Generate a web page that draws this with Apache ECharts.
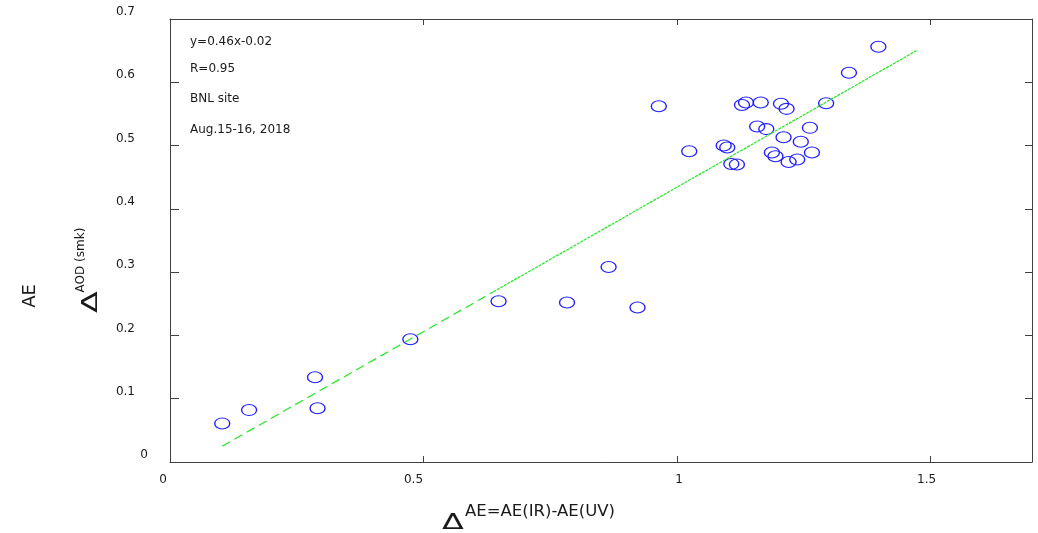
<!DOCTYPE html>
<html>
<head>
<meta charset="utf-8">
<script src="https://cdn.jsdelivr.net/npm/echarts@6/dist/echarts.min.js"></script>
<style>html,body{margin:0;padding:0;background:#fff;}#chart{width:1038px;height:533px;}</style>
</head>
<body>
<div id="chart"></div>
<script>
// ---- data ----
const pointsX = [0.103, 0.156, 0.286, 0.291, 0.474, 0.648, 0.783, 0.865, 0.922, 0.964, 1.024,
  1.092, 1.099, 1.107, 1.118, 1.128, 1.136, 1.165, 1.158, 1.176, 1.187, 1.194, 1.205, 1.216,
  1.210, 1.220, 1.237, 1.244, 1.262, 1.266, 1.294, 1.339, 1.397];
const pointsY = [0.061, 0.082, 0.134, 0.085, 0.194, 0.254, 0.252, 0.308, 0.244, 0.562, 0.491,
  0.500, 0.497, 0.471, 0.470, 0.564, 0.568, 0.568, 0.530, 0.526, 0.489, 0.483, 0.566, 0.558,
  0.513, 0.474, 0.478, 0.506, 0.528, 0.489, 0.567, 0.615, 0.656];
const fitDashX = [0.103, 0.638];
const fitDashY = [0.025, 0.269];
const fitDotX = [0.638, 1.472];
const fitDotY = [0.269, 0.650];
const xTickValues = [0, 0.5, 1, 1.5];
const xTickLabels = ['0', '0.5', '1', '1.5'];
const yTickValues = [0, 0.1, 0.2, 0.3, 0.4, 0.5, 0.6, 0.7];
const yTickLabels = ['0', '0.1', '0.2', '0.3', '0.4', '0.5', '0.6', '0.7'];
const annotations = ['y=0.46x-0.02', 'R=0.95', 'BNL site', 'Aug.15-16, 2018'];
const xTitleSup = 'AE=AE(IR)-AE(UV)';
const yTitleMain = 'AE';
const yTitleSup = 'AOD (smk)';
const deltaChar = '\u0394';

const points = pointsX.map((x, i) => [x, pointsY[i]]);
const fitDash = fitDashX.map((x, i) => [x, fitDashY[i]]);
const fitDot = fitDotX.map((x, i) => [x, fitDotY[i]]);

const FONT = 'DejaVu Sans';
const TXT = '#1a1a1a';
const AX = '#404040';
const GREEN = '#22e622';

// per-label horizontal nudges for x tick labels (px, negative = left)
const xShift = [-7, -10, 2, -4];
const xRich = {};
xTickValues.forEach((v, i) => {
  const s = xShift[i];
  xRich['k' + i] = {
    fontFamily: FONT, fontSize: 12, color: TXT,
    padding: s < 0 ? [0, -2 * s, 0, 0] : [0, 0, 0, 2 * s]
  };
});

const chart = echarts.init(document.getElementById('chart'));
const annoYs = [42, 69, 99, 130];

chart.setOption({
  animation: false,
  backgroundColor: '#fff',
  grid: { left: 170, top: 19, width: 862, height: 443 },
  xAxis: [{
    type: 'value', min: 0, max: 1.7, interval: 0.5, position: 'bottom',
    axisLine: { show: true, onZero: false, lineStyle: { color: AX, width: 1 } },
    axisTick: { show: true, inside: true, length: 6, lineStyle: { color: AX } },
    splitLine: { show: false },
    axisLabel: {
      margin: 12, showMaxLabel: false,
      formatter: function (v) {
        const i = xTickValues.findIndex(t => Math.abs(t - v) < 1e-9);
        return i < 0 ? '' : '{k' + i + '|' + xTickLabels[i] + '}';
      },
      rich: xRich
    }
  }, {
    type: 'value', min: 0, max: 1.7, interval: 0.5, position: 'top',
    axisLine: { show: true, onZero: false, lineStyle: { color: AX, width: 1 } },
    axisTick: { show: true, inside: true, length: 6, lineStyle: { color: AX } },
    splitLine: { show: false }, axisLabel: { show: false }
  }],
  yAxis: [{
    type: 'value', min: 0, max: 0.7, interval: 0.1, position: 'left',
    axisLine: { show: true, onZero: false, lineStyle: { color: AX, width: 1 } },
    axisTick: { show: true, inside: true, length: 9, lineStyle: { color: AX } },
    splitLine: { show: false },
    axisLabel: {
      margin: 22,
      formatter: function (v) {
        const i = yTickValues.findIndex(t => Math.abs(t - v) < 1e-9);
        if (i < 0) return '';
        return i === 0 ? '{z|' + yTickLabels[i] + '}' : '{n|' + yTickLabels[i] + '}';
      },
      rich: {
        z: { fontFamily: FONT, fontSize: 12, color: TXT, padding: [0, 0, 14, 0] },
        n: { fontFamily: FONT, fontSize: 12, color: TXT, padding: [0, 13, 14, 0] }
      }
    }
  }, {
    type: 'value', min: 0, max: 0.7, interval: 0.1, position: 'right',
    axisLine: { show: true, onZero: false, lineStyle: { color: AX, width: 1 } },
    axisTick: { show: true, inside: true, length: 7, lineStyle: { color: AX } },
    splitLine: { show: false }, axisLabel: { show: false }
  }],
  series: [{
    type: 'line', data: fitDash, symbol: 'none', silent: true,
    lineStyle: { color: GREEN, width: 1.2, type: [9, 5] }
  }, {
    type: 'line', data: fitDot, symbol: 'none', silent: true,
    lineStyle: { color: GREEN, width: 1.2, type: [3, 1] }
  }, {
    type: 'scatter', data: points,
    symbol: 'path://M0,50 A50,50 0 1,1 100,50 A50,50 0 1,1 0,50 Z',
    symbolSize: [15, 11],
    itemStyle: { color: 'rgba(0,0,0,0)', borderColor: '#1f1fff', borderWidth: 1.2, opacity: 1 }
  }],
  graphic: [
    ...annotations.map((t, i) => ({
      type: 'text', x: 190, y: annoYs[i],
      style: { text: t, fontFamily: FONT, fontSize: 12, fill: TXT, align: 'left', verticalAlign: 'middle' }
    })),
    { type: 'text', x: 30, y: 296, rotation: Math.PI / 2,
      style: { text: yTitleMain, fontFamily: FONT, fontSize: 18, fill: TXT, align: 'center', verticalAlign: 'middle' } },
    { type: 'text', x: 91, y: 302, rotation: Math.PI / 2, scaleX: 1.45,
      style: { text: deltaChar, fontFamily: FONT, fontSize: 22, fill: TXT, align: 'center', verticalAlign: 'middle' } },
    { type: 'text', x: 81, y: 260, rotation: Math.PI / 2,
      style: { text: yTitleSup, fontFamily: FONT, fontSize: 12, fill: TXT, align: 'center', verticalAlign: 'middle' } },
    { type: 'text', x: 453, y: 523, scaleX: 1.45,
      style: { text: deltaChar, fontFamily: FONT, fontSize: 22, fill: TXT, align: 'center', verticalAlign: 'middle' } },
    { type: 'text', x: 465, y: 512,
      style: { text: xTitleSup, fontFamily: FONT, fontSize: 16.5, fill: TXT, align: 'left', verticalAlign: 'middle' } }
  ]
});
</script>
</body>
</html>
